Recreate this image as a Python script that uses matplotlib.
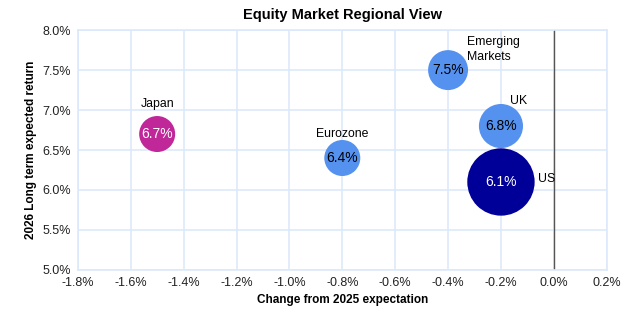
import matplotlib.pyplot as plt
from matplotlib.ticker import FuncFormatter

plt.rcParams['font.family'] = ['Liberation Sans', 'DejaVu Sans']

regions = ["Japan", "Eurozone", "Emerging\nMarkets", "UK", "US"]
change = [-1.5, -0.8, -0.4, -0.2, -0.2]
expected = [6.7, 6.4, 7.5, 6.8, 6.1]
weight = [1.0, 1.0, 1.23, 1.5, 3.5]

colors = ["#C0289A", "#5591EE", "#5591EE", "#5591EE", "#000099"]
text_colors = ["white", "black", "black", "black", "white"]
# label offsets in points (dx, dy, ha, va)
offsets = [(0, 17.5, "center", "bottom"),
           (0, 13, "center", "bottom"),
           (13.5, 15, "left", "center"),
           (6.5, 13.5, "left", "bottom"),
           (27, 2.5, "left", "center")]

fig, ax = plt.subplots(figsize=(6.38, 3.24), dpi=100)
fig.subplots_adjust(left=0.122, right=0.951, top=0.907, bottom=0.167)

base = (2 * 18 * 0.72) ** 2
ax.scatter(change, expected, s=[w * base for w in weight], c=colors,
           linewidths=0, zorder=3)

for name, x, y, c, tc, off in zip(regions, change, expected, colors,
                                  text_colors, offsets):
    ax.text(x, y, f"{y:.1f}%", color=tc, ha="center", va="center",
            fontsize=10, zorder=4)
    dx, dy, ha, va = off
    ax.annotate(name, (x, y), xytext=(dx, dy), textcoords="offset points",
                ha=ha, va=va, fontsize=8.8, linespacing=1.3)

ax.axvline(0, color="#555555", lw=1.0, zorder=2)

ax.set_xlim(-1.8, 0.2)
ax.set_ylim(5.0, 8.0)
ax.set_xticks([-1.8 + 0.2 * i for i in range(11)])
ax.set_yticks([5.0 + 0.5 * i for i in range(7)])
ax.xaxis.set_major_formatter(FuncFormatter(lambda v, p: f"{v:.1f}%"))
ax.yaxis.set_major_formatter(FuncFormatter(lambda v, p: f"{v:.1f}%"))
ax.tick_params(length=0, labelsize=9, colors="#222222", pad=5)
ax.grid(True, color="#DDE9FA", lw=1.2, zorder=0)
ax.set_axisbelow(True)
for s in ax.spines.values():
    s.set_color("#DDE9FA")
    s.set_linewidth(1.2)

ax.set_title("Equity Market Regional View", fontsize=10.5, fontweight="bold",
             pad=8)
ax.set_xlabel("Change from 2025 expectation", fontsize=8.5, fontweight="bold")
ax.set_ylabel("2026 Long term expected return", fontsize=8.5,
              fontweight="bold")

plt.savefig("out.png", dpi=100)
